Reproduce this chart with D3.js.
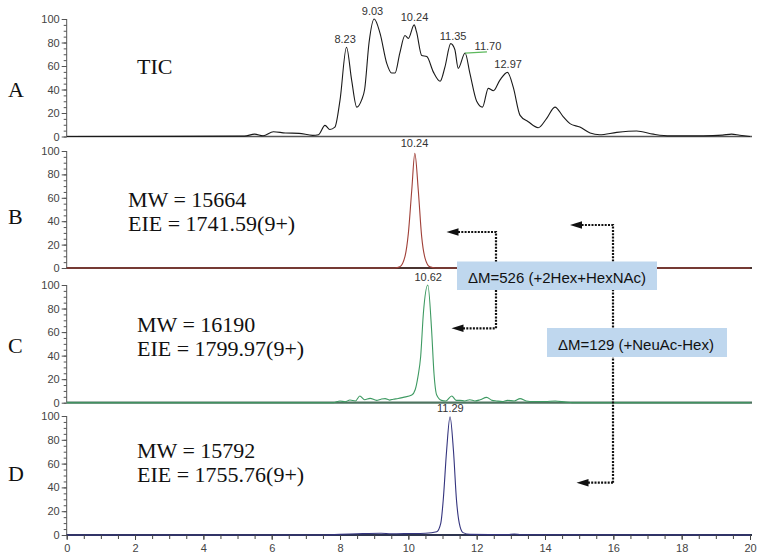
<!DOCTYPE html>
<html><head><meta charset="utf-8">
<script src="https://cdn.jsdelivr.net/npm/d3@7"></script>
<style>
body{margin:0;background:#fff;}
svg{display:block;}
.tick text{font-family:"Liberation Sans",Arial,sans-serif;font-size:11px;fill:#444;}
</style></head>
<body><svg id="c" width="762" height="560"></svg>
<script>
// ---------- data ----------
const xTickValues = [0,2,4,6,8,10,12,14,16,18,20];
const yTickValues = [0,20,40,60,80,100];

const ticTime = [0,5.2,5.5,5.75,6.05,6.4,6.8,7.2,7.37,7.56,7.7,7.85,8.0,8.19,8.34,8.49,8.63,8.72,8.85,9.0,9.17,9.37,9.51,9.61,9.75,9.9,10.0,10.17,10.24,10.39,10.54,10.73,10.93,11.07,11.24,11.36,11.46,11.66,11.8,12.0,12.17,12.34,12.49,12.68,12.9,13.07,13.27,13.51,13.8,14.05,14.29,14.53,14.73,15.02,15.32,15.6,16.1,16.68,17.17,17.66,18.63,19.2,19.46,19.7,20];
const ticValue = [0,0.3,2,0.6,4,3,2.7,1,1.5,9.5,6,8,31,76,48,25,31,40,80,100,88,62,54,54,71,86,83.5,95,89,69,68,55,47,59,79,74,58,71,54,30,25,41,39,48,54.6,42,18,12.6,7.5,15.5,25,17,11,8,3,1.5,3.5,4.7,2,0.5,0.5,1.2,2,1,0];

const bTime = [0,9.6,9.75,9.9,10.0,10.1,10.19,10.29,10.39,10.49,10.63,10.8,20];
const bValue = [0,0,1,9.7,29.6,66.7,98,66.7,26.8,8.3,1,0,0];

const cTime = [0,7.8,8.0,8.15,8.29,8.45,8.58,8.72,8.88,9.07,9.2,9.32,9.45,9.56,9.7,9.85,10.1,10.2,10.28,10.36,10.44,10.57,10.68,10.75,10.83,10.97,11.1,11.27,11.4,11.51,11.65,11.8,11.95,12.1,12.29,12.45,12.58,12.75,12.9,13.1,13.27,13.45,13.66,14.0,14.3,14.6,14.8,20];
const cValue = [0,0,1.5,0.8,2.3,1.5,5.7,2.5,3.7,2,3,3.5,2.2,3,3.5,4.5,6.5,11,22,39,76,100,62,25,6.5,2,1.5,5.7,2,2,1.5,2.5,1.5,2.5,4.5,2,1.5,1,2,1.5,3.5,1.5,1,1,1.5,0.5,0,0];

const dTime = [0,7.5,8.0,8.5,9.2,9.5,10.0,10.5,10.83,10.95,11.02,11.12,11.22,11.32,11.41,11.49,11.6,11.8,12.9,13.1,13.3,20];
const dValue = [0,0,0.5,1.0,1.5,1,1.2,1.5,2.8,10,29,71,99.4,71,29,10,2,0.5,0.3,0.8,0.2,0];

const panelLetters = ["A","B","C","D"];
const ticLabelText = ["8.23","9.03","10.24","11.35","12.97"];
const ticLabelTime = [8.15,8.95,10.18,11.31,12.92];
const calloutText = "11.70";
const calloutPeakTime = 11.66;
const calloutLabelTime = 12.33;
const peakText = ["10.24","10.62","11.29"];
const peakTime = [10.18,10.58,11.23];
const mwText = ["MW = 15664","MW = 16190","MW = 15792"];
const eieText = ["EIE = 1741.59(9+)","EIE = 1799.97(9+)","EIE = 1755.76(9+)"];
const deltaText = ["\u0394M=526 (+2Hex+HexNAc)","\u0394M=129 (+NeuAc-Hex)"];

// ---------- layout ----------
const svg = d3.select("#c");
const x = d3.scaleLinear().domain([0,20]).range([66.7,750]);
const panels = [
  {y0:136.5,y1:19,  line:"#1a1a1a", base:"#555", baseW:1.5, t:ticTime, v:ticValue},
  {y0:268,  y1:151, line:"#a04038", base:"#4a3430", baseW:2.2, t:bTime, v:bValue},
  {y0:402.7,y1:285, line:"#3e9a62", base:"#4e7560", baseW:2.2, t:cTime, v:cValue},
  {y0:535,  y1:416, line:"#34347e", base:"#2e3550", baseW:2, t:dTime, v:dValue}
];
const letterY = [96.7,224,352.7,480.7];

panels.forEach((p,i)=>{
  const y = d3.scaleLinear().domain([0,100]).range([p.y0,p.y1]);
  p.y = y;
  const g = svg.append("g");
  // minor y ticks
  g.append("g").attr("transform",`translate(${x(0)},0)`)
    .call(d3.axisLeft(y).tickValues(d3.range(0,101,5)).tickSize(3).tickFormat(""))
    .call(s=>s.select(".domain").remove())
    .call(s=>s.selectAll("line").attr("stroke","#555"));
  // major y ticks
  g.append("g").attr("transform",`translate(${x(0)},0)`)
    .call(d3.axisLeft(y).tickValues(yTickValues).tickSize(5).tickPadding(2))
    .call(s=>s.select(".domain").attr("stroke","#555").attr("d",`M0,${p.y1}V${p.y0}`))
    .call(s=>s.selectAll("line").attr("stroke","#555"));
  // baseline
  g.append("line").attr("x1",x(0)).attr("x2",752).attr("y1",p.y0).attr("y2",p.y0)
    .attr("stroke",p.base).attr("stroke-width",p.baseW);
  // trace
  const data = p.t.map((t,k)=>[t,p.v[k]]);
  g.append("path").datum(data)
    .attr("fill","none").attr("stroke",p.line).attr("stroke-width",1.1)
    .attr("d",d3.line().x(d=>x(d[0])).y(d=>y(d[1])).curve(d3.curveMonotoneX));
  // panel letter
  svg.append("text").attr("x",8).attr("y",letterY[i])
    .attr("font-family","'Liberation Serif','Times New Roman',serif").attr("font-size",22)
    .attr("fill","#111").text(panelLetters[i]);
});

// x axis on panel D
const pD = panels[3];
svg.append("g").attr("transform",`translate(0,${pD.y0})`)
  .call(d3.axisBottom(x).tickValues(d3.range(0,20.01,0.5)).tickSize(4).tickFormat(""))
  .call(s=>s.select(".domain").remove())
  .call(s=>s.selectAll("line").attr("stroke","#444"));
svg.append("g").attr("transform",`translate(0,${pD.y0})`)
  .call(d3.axisBottom(x).tickValues(xTickValues).tickSize(5).tickPadding(4).tickFormat(d3.format("d")))
  .call(s=>s.select(".domain").remove())
  .call(s=>s.selectAll("line").attr("stroke","#444"));

// helper interpolation
function valAt(p,t){
  const ts=p.t, vs=p.v;
  for(let k=1;k<ts.length;k++){ if(ts[k]>=t){const f=(t-ts[k-1])/(ts[k]-ts[k-1]); return vs[k-1]+f*(vs[k]-vs[k-1]);} }
  return 0;
}
const peakFont = {"font-family":"'Liberation Sans',Arial,sans-serif","font-size":11,"fill":"#333","text-anchor":"middle"};
function applyAttrs(sel,o){Object.entries(o).forEach(([k,v])=>sel.attr(k,v));return sel;}

// TIC peak labels
const pA = panels[0];
const peakMaxA = [76,100,95,79,54.6];
ticLabelText.forEach((txt,k)=>{
  applyAttrs(svg.append("text"),peakFont).attr("x",x(ticLabelTime[k])).attr("y",pA.y(peakMaxA[k])-4).text(txt);
});
// callout 11.70
svg.append("line").attr("x1",x(calloutPeakTime)).attr("y1",pA.y(71)).attr("x2",x(calloutLabelTime)-1).attr("y2",pA.y(72))
  .attr("stroke","#5cb85c").attr("stroke-width",1.2);
applyAttrs(svg.append("text"),peakFont).attr("x",x(calloutLabelTime)).attr("y",pA.y(72)-1.5).text(calloutText);

// single-peak labels B,C,D
[1,2,3].forEach((pi,k)=>{
  const p = panels[pi];
  applyAttrs(svg.append("text"),peakFont).attr("x",x(peakTime[k])).attr("y",p.y(100)-4).text(peakText[k]);
});

// Big serif annotations
const serif = "'Liberation Serif','Times New Roman',serif";
svg.append("text").attr("x",137).attr("y",74).attr("font-family",serif).attr("font-size",22).attr("fill","#111").text("TIC");
const mwX=[128,137,137], mwY=[206.7,332.3,458.3], eieY=[230.7,356,481.7];
mwText.forEach((t,k)=>{
  svg.append("text").attr("x",mwX[k]).attr("y",mwY[k]).attr("font-family",serif).attr("font-size",22).attr("fill","#111").text(t);
  svg.append("text").attr("x",mwX[k]).attr("y",eieY[k]).attr("font-family",serif).attr("font-size",22).attr("fill","#111").text(eieText[k]);
});

// dotted arrows
const dot = {stroke:"#111","stroke-width":2.2,"stroke-dasharray":"2,1.3",fill:"none"};
function arrow(path, tipX, tipY){
  applyAttrs(svg.append("path").attr("d",path),dot);
  svg.append("path").attr("d",`M${tipX},${tipY}L${tipX+12},${tipY-3.8}L${tipX+12},${tipY+3.8}Z`).attr("fill","#111");
}
arrow("M496,262V232H458",446.5,232);
arrow("M496,290V328.3H463",451.5,328.3);
arrow("M613,482.7V225H581",570,225);
arrow("M613,482.7H588",576.5,482.7);

// boxes
const boxes = [{x:457,y:261.5,w:200,h:28.5,tx:557,ty:282.5},{x:547,y:328,w:180,h:29,tx:636,ty:349.5}];
boxes.forEach((b,k)=>{
  svg.append("rect").attr("x",b.x).attr("y",b.y).attr("width",b.w).attr("height",b.h).attr("fill","#bfd7ee");
  svg.append("text").attr("x",b.tx).attr("y",b.ty).attr("text-anchor","middle")
    .attr("font-family","'Liberation Sans',Arial,sans-serif").attr("font-size",15).attr("fill","#111").text(deltaText[k]);
});
</script></body></html>
